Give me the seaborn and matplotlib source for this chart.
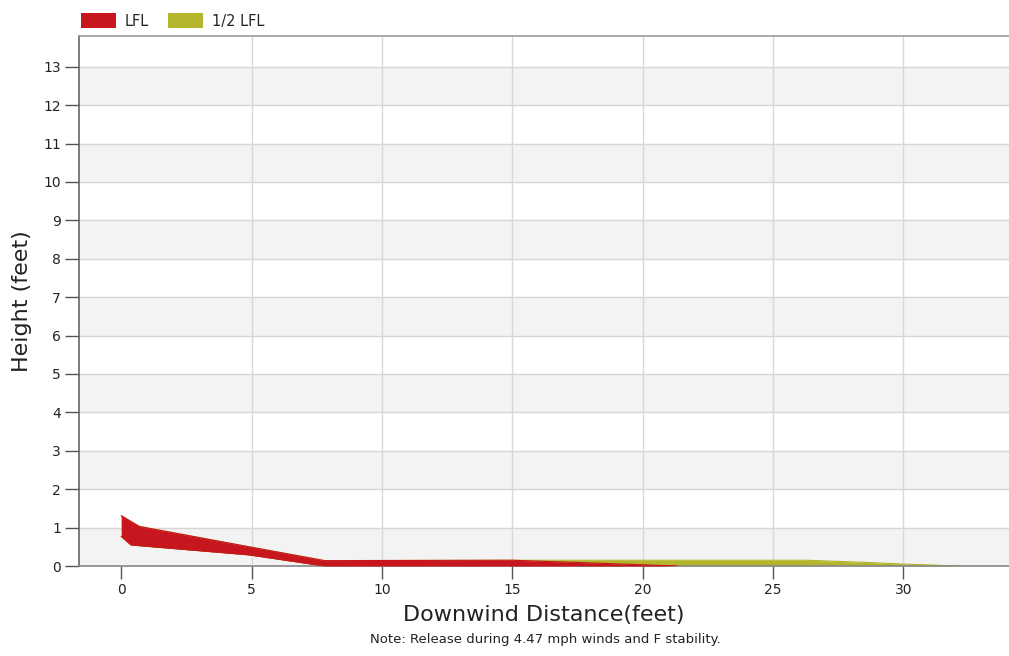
import matplotlib
matplotlib.use("Agg")
import matplotlib.pyplot as plt
import matplotlib.patches as mpatches
import seaborn as sns
import pandas as pd

# Plume cross-section envelopes (downwind distance in feet, height in feet)
lfl_x = [0.0, 0.37, 0.69, 4.9, 7.8, 15.0, 18.0, 21.3]
lfl_top = [1.31, 1.16, 1.03, 0.50, 0.14, 0.15, 0.08, 0.0]
lfl_bottom = [0.77, 0.55, 0.53, 0.29, 0.0, 0.0, 0.0, 0.0]

half_lfl_x = [0.0, 0.37, 0.69, 4.9, 7.8, 15.0, 26.3, 28.7, 30.0, 32.2]
half_lfl_top = [1.31, 1.16, 1.03, 0.50, 0.14, 0.15, 0.15, 0.09, 0.05, 0.0]
half_lfl_bottom = [0.77, 0.55, 0.53, 0.29, 0.0, 0.0, 0.0, 0.0, 0.0, 0.0]

series_labels = ["LFL", "1/2 LFL"]
series_colors = ["#c8161e", "#b3b52b"]

x_ticks = [0, 5, 10, 15, 20, 25, 30]
y_ticks = list(range(0, 14))

x_label = "Downwind Distance(feet)"
y_label = "Height (feet)"
note = "Note: Release during 4.47 mph winds and F stability."

sns.set_theme(style="white")
plt.rcParams["font.family"] = ["DejaVu Sans"]

fig = plt.figure(figsize=(10.09, 6.56), dpi=100)
ax = fig.add_axes([79 / 1009, 1 - 566 / 656, 1 - 79 / 1009, (566 - 36) / 656])

ax.set_xlim(-1.62, 34.05)
ax.set_ylim(0, 13.8)

# alternating horizontal bands
for lo in range(0, 13, 2):
    ax.axhspan(lo, lo + 1, color="#f3f3f3", zorder=0, lw=0)

for y in y_ticks:
    ax.axhline(y, color="#d6d6d6", lw=1.0, zorder=0.5)
for x in x_ticks[1:]:
    ax.axvline(x, color="#d8d8d8", lw=1.0, zorder=0.5)

half_df = pd.DataFrame({"x": half_lfl_x, "top": half_lfl_top, "bottom": half_lfl_bottom})
lfl_df = pd.DataFrame({"x": lfl_x, "top": lfl_top, "bottom": lfl_bottom})

for df, color, z in [(half_df, series_colors[1], 2), (lfl_df, series_colors[0], 3)]:
    ax.fill_between(df["x"], df["bottom"], df["top"], color=color, lw=0, zorder=z)
    sns.lineplot(data=df, x="x", y="top", ax=ax, color=color, lw=0.8, zorder=z,
                 estimator=None, sort=False, legend=False)
    sns.lineplot(data=df, x="x", y="bottom", ax=ax, color=color, lw=0.8, zorder=z,
                 estimator=None, sort=False, legend=False)

ax.set_xticks(x_ticks)
ax.set_yticks(y_ticks)
ax.tick_params(axis="y", which="major", direction="out", length=10, width=1,
               color="#555555", labelsize=10, labelcolor="#222222", pad=3, left=True)
ax.tick_params(axis="x", which="major", direction="out", length=9, width=1,
               color="#555555", labelsize=10, labelcolor="#222222", pad=3, bottom=True)

for side in ["left", "bottom", "top"]:
    ax.spines[side].set_visible(True)
    ax.spines[side].set_linewidth(1.2)
ax.spines["left"].set_color("#666666")
ax.spines["bottom"].set_color("#888888")
ax.spines["top"].set_color("#999999")
ax.spines["right"].set_visible(False)

ax.set_xlabel(x_label, fontsize=16, color="#222222", labelpad=6)
ax.set_ylabel(y_label, fontsize=16, color="#222222", labelpad=8)

fig.text(545 / 1009, 1 - 640 / 656, note, ha="center", va="center",
         fontsize=9.5, color="#222222")

handles = [mpatches.Patch(facecolor=c, edgecolor="none", label=l)
           for c, l in zip(series_colors, series_labels)]
fig.legend(handles=handles, loc="upper left", bbox_to_anchor=(68 / 1009, 1 - 0 / 656),
           ncol=2, frameon=False, fontsize=10.5, handlelength=2.4, handleheight=1.2,
           columnspacing=1.3, handletextpad=0.6)

fig.savefig("out.png", dpi=100)
